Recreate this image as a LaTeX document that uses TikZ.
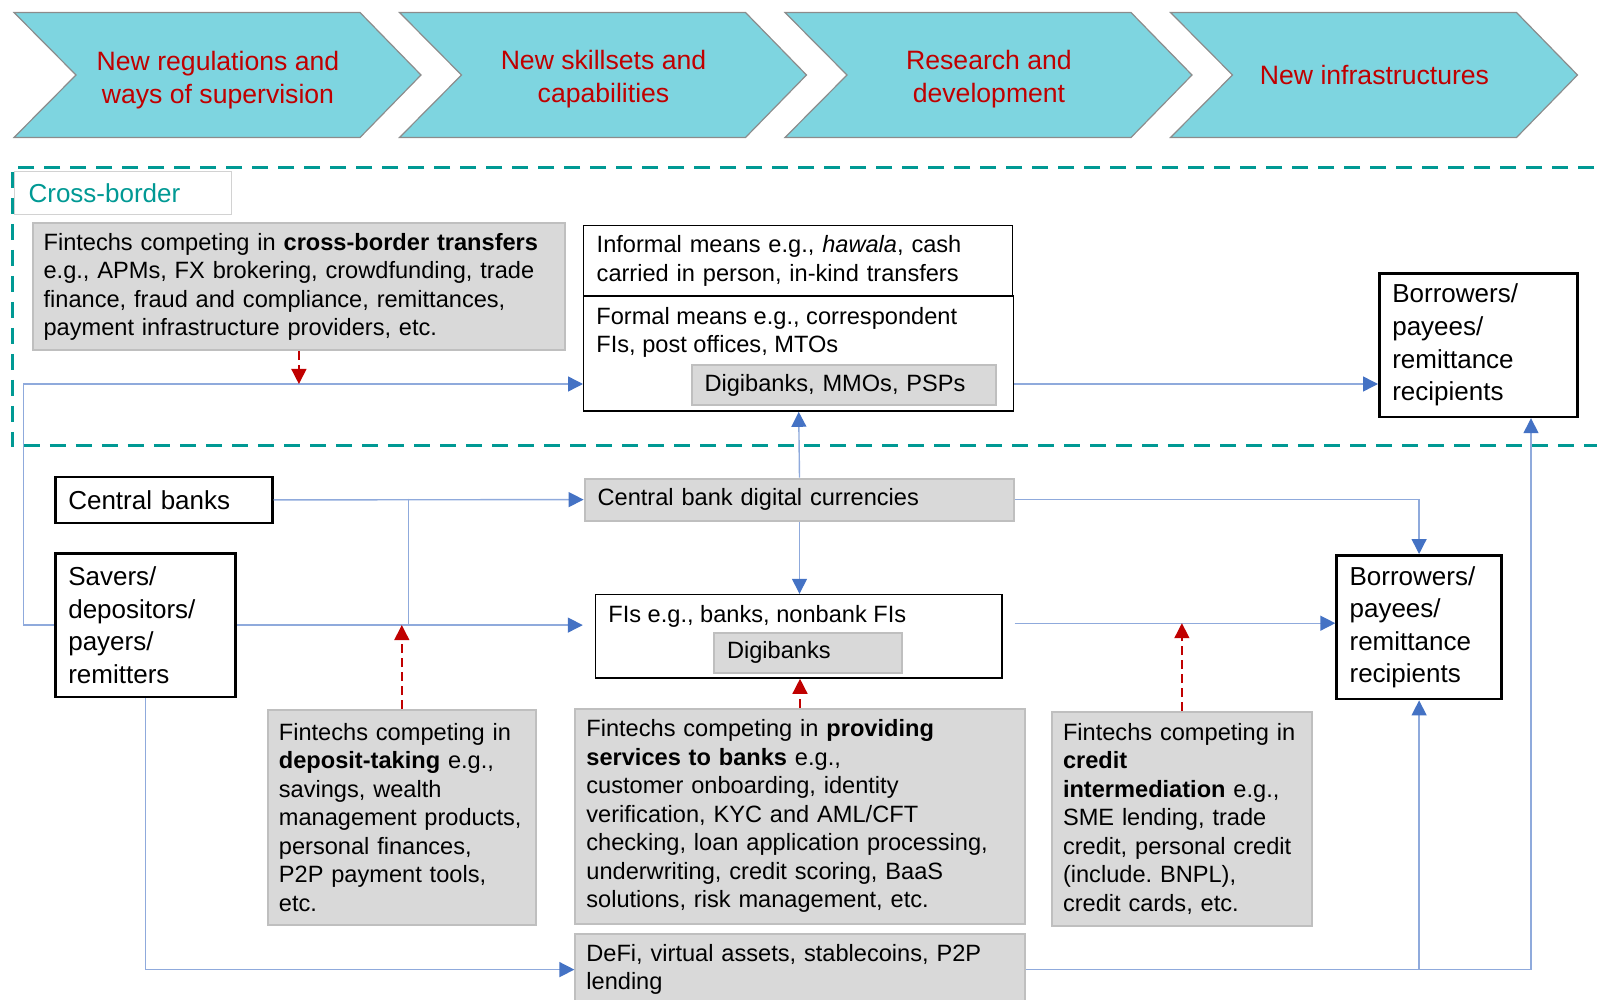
\documentclass[tikz,border=0pt]{standalone}
\usepackage{fontspec}
\setmainfont{Liberation Sans}
\usepackage{xcolor}
\usetikzlibrary{arrows.meta,calc}
\frenchspacing

\definecolor{chevfill}{RGB}{126,213,224}
\definecolor{chevedge}{RGB}{140,140,140}
\definecolor{chevred}{RGB}{192,0,0}
\definecolor{finred}{RGB}{192,0,0}
\definecolor{crossteal}{RGB}{0,153,148}
\definecolor{boxgray}{RGB}{217,217,217}
\definecolor{boxedge}{RGB}{191,191,191}
\definecolor{labeledge}{RGB}{210,210,210}
\definecolor{lineblue}{RGB}{143,170,220}
\definecolor{arrblue}{RGB}{68,114,196}

\newcommand\fsmall{\fontsize{11.8}{14.25}\selectfont}
\newcommand\fbig{\fontsize{13}{16.3}\selectfont}
\newcommand\fchev{\fontsize{13.3}{16.3}\selectfont}

\begin{document}
\begin{tikzpicture}[x=0.5pt,y=-0.5pt,font=\fsmall]

\tikzstyle{gbox}=[rectangle, anchor=north west, fill=boxgray, draw=boxedge, line width=1pt,
align=left, inner xsep=5.5pt, inner ysep=1pt, font=\fsmall]
\tikzstyle{wbox}=[rectangle, anchor=north west, fill=white, draw=black, line width=0.7pt,
align=left, inner xsep=6.5pt, inner ysep=1pt, font=\fsmall]
\tikzstyle{bbox}=[wbox, line width=1.3pt, font=\fbig]
\tikzstyle{txt}=[anchor=north west, inner sep=0pt, align=left, font=\fsmall]
\tikzstyle{flow}=[draw=lineblue, line width=0.7pt, -{Triangle[length=7.5pt,width=7.5pt,color=arrblue]}]
\tikzstyle{link}=[draw=lineblue, line width=0.7pt]
\tikzstyle{fin}=[draw=finred, line width=0.7pt, dash pattern=on 4.5pt off 2.5pt,
-{Triangle[length=7.5pt,width=7.5pt,color=finred]}]
\tikzstyle{chev}=[fill=chevfill, draw=chevedge, line width=0.6pt]
\tikzstyle{chevtxt}=[align=center, text=chevred, font=\fchev]
\tikzstyle{xbord}=[draw=crossteal, line width=1.5pt, dash pattern=on 8pt off 5pt]

\useasboundingbox (0,0) rectangle (1597,1000);

%chevrons
\foreach \i/\ty/\txt in {0/80/{New regulations and\\ways of supervision},1/79/{New skillsets and\\capabilities},
2/79/{Research and\\development},3/75/{New infrastructures}}{
\pgfmathsetmacro\xl{14+385.5*\i}
\draw[chev] (\xl,12.5) -- ++(346,0) -- ++(61,62.5) -- ++(-61,62.5) -- ++(-346,0) -- ++(62,-62.5) -- cycle;
\node[chevtxt] (ch\i) at (\xl+204,\ty) {\txt};
}

%cross-border region
\draw[xbord] (1620,168) -- (12,168) -- (12,446) -- (1620,446);

\node[wbox, draw=labeledge, line width=0.6pt, text width=94.5pt, minimum height=21.5pt,
inner xsep=7pt, text=crossteal, font=\fbig]
(xlab) at (14,171)
{Cross-border};

\node[gbox, text width=255.3pt, minimum height=63.7pt]
(crossfin) at (31.6,222)
{Fintechs competing in \textbf{cross-border transfers}\\e.g., APMs, FX brokering, crowdfunding, trade\\finance, fraud and compliance, remittances,\\payment infrastructure providers, etc.};

\node[wbox, text width=201.4pt, minimum height=35.2pt]
(informal) at (583,225)
{Informal means e.g., \textit{hawala}, cash\\carried in person, in-kind transfers};

\node[wbox, minimum width=215pt, minimum height=57.5pt]
(formal) at (583,295.4)
{};

\node[txt]
(formaltxt) at (596,307)
{Formal means e.g., correspondent\\FIs, post offices, MTOs};

\node[gbox, inner xsep=6.5pt, text width=139.3pt, minimum height=20.3pt]
(digi1) at (690.5,363.6)
{Digibanks, MMOs, PSPs};

\node[bbox, text width=86pt, minimum height=71.8pt]
(borrow1) at (1378,272)
{Borrowers/\\payees/\\remittance\\recipients};

%domestic
\node[bbox, text width=95.5pt, minimum height=23pt]
(cb) at (54,475.6)
{Central banks};

\node[bbox, text width=77.2pt, minimum height=71.8pt]
(sav) at (54,552)
{Savers/\\depositors/\\payers/\\remitters};

\node[bbox, text width=69.5pt, minimum height=71.9pt]
(borrow2) at (1335.3,554)
{Borrowers/\\payees/\\remittance\\recipients};

\node[gbox, inner xsep=6.5pt, text width=201.9pt, minimum height=20.9pt]
(cbdc) at (583.6,477.7)
{Central bank digital currencies};

\node[wbox, minimum width=203.2pt, minimum height=41.8pt]
(fi) at (594.8,593.8)
{};

\node[txt]
(fitxt) at (608,605.2)
{FIs e.g., banks, nonbank FIs};

\node[gbox, inner xsep=6.5pt, text width=81.2pt, minimum height=20.3pt]
(digi2) at (713,631.5)
{Digibanks};

%fintechs
\node[gbox, text width=122.9pt, minimum height=107.4pt]
(dep) at (266.9,709)
{Fintechs competing in\\\textbf{deposit-taking} e.g.,\\savings, wealth\\management products,\\personal finances,\\P2P payment tools,\\etc.};

\node[gbox, text width=213.6pt, minimum height=107.4pt]
(prov) at (574.4,707.9)
{Fintechs competing in \textbf{providing}\\\textbf{services to banks} e.g.,\\customer onboarding, identity\\verification, KYC and AML/CFT\\checking, loan application processing,\\underwriting, credit scoring, BaaS\\solutions, risk management, etc.};

\node[gbox, text width=118.9pt, minimum height=106.9pt]
(cred) at (1051,711)
{Fintechs competing in\\\textbf{credit}\\\textbf{intermediation} e.g.,\\SME lending, trade\\credit, personal credit\\(include. BNPL),\\credit cards, etc.};

\node[gbox, text width=213.6pt, minimum height=35.6pt]
(defi) at (574.4,933)
{DeFi, virtual assets, stablecoins, P2P\\lending};

%connectors
\coordinate (xl) at (23.4,384);
\coordinate (jn) at (408.4,498.5);
\coordinate (rt) at (1531,0);

\draw[flow] (sav.west) -| (xl) -- (formal.west |- xl);
\draw[fin] (crossfin.south) -- (crossfin.south |- xl);
\draw[flow] (formal.east |- xl) -- (borrow1.west |- xl);
\draw[flow] (cb.east) -- (cbdc.west);
\draw[link] (jn) -- (jn |- sav.east);
\draw[flow, shorten >=6pt] (sav.east) -- (sav.east -| fi.west);
\draw[fin] (dep.north) -- (dep.north |- sav.east);
\draw[flow] (cbdc.north) -- (formal.south);
\draw[flow] (cbdc.south) -- (cbdc.south |- fi.north);
\draw[flow] (cbdc.east) -| (borrow2.north);
\draw[flow, shorten <=6pt] ([yshift=2pt]fi.east |- borrow2.west) -- ([yshift=2pt]borrow2.west);
\draw[fin] (cred.north) -- ([yshift=2pt]cred.north |- borrow2.west);
\draw[fin] (prov.north) -- (prov.north |- fi.south);
\draw[flow] (sav.south) |- (defi.west);
\draw[flow] (defi.east) -| (rt |- borrow1.south);
\draw[flow] (borrow2.south |- defi.east) -- (borrow2.south);

\end{tikzpicture}
\end{document}
